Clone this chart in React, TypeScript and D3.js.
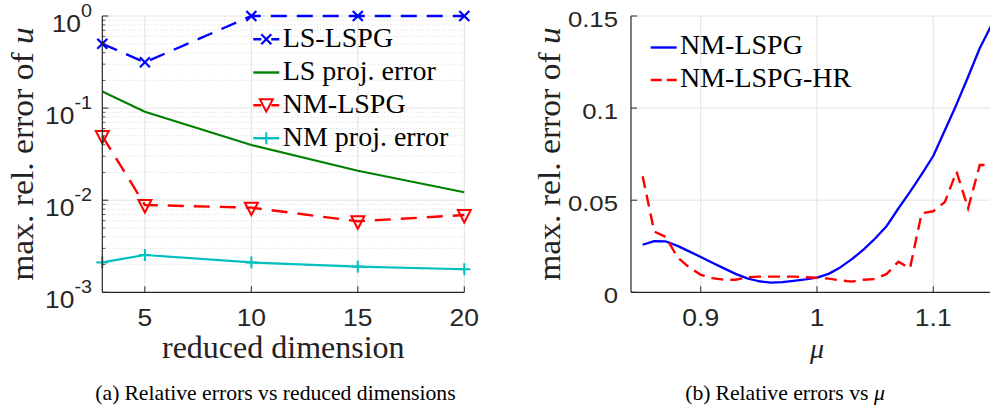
import React from 'react';
import * as d3 from 'd3';

// ---------- data: left panel ----------
const dims = [3, 5, 10, 15, 20];
const lsLspg = [0.5, 0.314, 1.0, 1.0, 1.0];
const lsProj = [0.151, 0.0914, 0.0398, 0.0209, 0.0122];
const nmLspg = [0.0498, 0.00887, 0.0083, 0.0059, 0.0069];
const nmProj = [0.00211, 0.00254, 0.00211, 0.0019, 0.00178];
const leftXTicks = [5, 10, 15, 20];
const leftYExps = [-3, -2, -1, 0];

// ---------- data: right panel ----------
const mu = [
  0.85, 0.86, 0.87, 0.88, 0.89, 0.9, 0.91, 0.92, 0.93, 0.94, 0.95, 0.96, 0.97, 0.98, 0.99, 1.0,
  1.01, 1.02, 1.03, 1.04, 1.05, 1.06, 1.07, 1.08, 1.09, 1.1, 1.11, 1.12, 1.13, 1.14, 1.15,
];
const nmLspgMu = [
  0.0258, 0.0278, 0.0276, 0.0252, 0.0222, 0.0192, 0.016, 0.013, 0.01, 0.0076, 0.006, 0.0052,
  0.0055, 0.0062, 0.007, 0.008, 0.01, 0.0135, 0.018, 0.0232, 0.0292, 0.036, 0.0455, 0.0545,
  0.064, 0.074, 0.088, 0.102, 0.117, 0.1325, 0.145,
];
const nmLspgHr = [
  0.063, 0.033, 0.03, 0.019, 0.0135, 0.0095, 0.0077, 0.0068, 0.0068, 0.0082, 0.0085, 0.0085,
  0.0085, 0.0085, 0.0082, 0.0079, 0.0074, 0.0065, 0.0058, 0.0068, 0.0072, 0.01, 0.0166, 0.013,
  0.0429, 0.044, 0.049, 0.0655, 0.0456, 0.0691, 0.0691,
];
const rightXTicks = [0.9, 1.0, 1.1];
const rightXLabels = ['0.9', '1', '1.1'];
const rightYTicks = [0, 0.05, 0.1, 0.15];
const rightYLabels = ['0', '0.05', '0.1', '0.15'];

const BLUE = '#0000ff';
const GREEN = '#008000';
const RED = '#ff0000';
const CYAN = '#00bfbf';
const AXIS = '#262626';
const GRID = '#e2e2e2';
const MINOR = '#cfcfcf';
const SANS = '"Liberation Sans", Arial, sans-serif';
const SERIF = '"Liberation Serif", "Times New Roman", serif';

const TOP = 16;
const BOTTOM = 292.3;

const xL = d3.scaleLinear().domain([3, 20]).range([102.3, 464.3]);
const yL = d3.scaleLog().domain([1e-3, 1]).range([BOTTOM, TOP]);
const xR = d3.scaleLinear().domain([0.84, 1.16]).range([631, 1003]);
const yR = d3.scaleLinear().domain([0, 0.15]).range([BOTTOM, TOP]);

const XMark = ({ x, y, c }: { x: number; y: number; c: string }) => (
  <g stroke={c} strokeWidth={2.2}>
    <line x1={x - 5} y1={y - 5} x2={x + 5} y2={y + 5} />
    <line x1={x - 5} y1={y + 5} x2={x + 5} y2={y - 5} />
  </g>
);
const PlusMark = ({ x, y, c }: { x: number; y: number; c: string }) => (
  <g stroke={c} strokeWidth={2}>
    <line x1={x - 6} y1={y} x2={x + 6} y2={y} />
    <line x1={x} y1={y - 6} x2={x} y2={y + 6} />
  </g>
);
const TriMark = ({ x, y, c }: { x: number; y: number; c: string }) => (
  <path
    d={`M${x - 6.5},${y - 5}L${x + 6.5},${y - 5}L${x},${y + 7.5}Z`}
    fill="none"
    stroke={c}
    strokeWidth={2}
    strokeLinejoin="miter"
  />
);

export default function App() {
  const lineL = d3
    .line<number>()
    .x((_, i) => xL(dims[i]))
    .y((d) => yL(d));
  const lineR = d3
    .line<number>()
    .x((_, i) => xR(mu[i]))
    .y((d) => yR(d));

  const minors: number[] = [];
  for (let e = -3; e < 0; e++) for (let k = 2; k <= 9; k++) minors.push(k * Math.pow(10, e));

  const legL = [
    { label: 'LS-LSPG', c: BLUE, dash: '8,10,8', mark: 'x' },
    { label: 'LS proj. error', c: GREEN, dash: '', mark: '' },
    { label: 'NM-LSPG', c: RED, dash: '8,10,8', mark: 'v' },
    { label: 'NM proj. error', c: CYAN, dash: '', mark: '+' },
  ];
  const legLBase = [46.7, 80, 112.7, 145.7];

  return (
    <svg width={990} height={410} style={{ display: 'block', position: 'absolute', left: 0, top: 0 }}>
      <rect width={990} height={410} fill="#fff" />
      {/* ================= LEFT PANEL ================= */}
      <g>
        {minors.map((v) => (
          <line key={'mg' + v} x1={xL(3)} x2={xL(20)} y1={yL(v)} y2={yL(v)} stroke={MINOR} strokeWidth={0.8} strokeDasharray="1,2.2" />
        ))}
        {leftYExps.slice(1).map((e) => (
          <line key={'gy' + e} x1={xL(3)} x2={xL(20)} y1={yL(Math.pow(10, e))} y2={yL(Math.pow(10, e))} stroke={GRID} strokeWidth={1} />
        ))}
        {leftXTicks.map((t) => (
          <line key={'gx' + t} x1={xL(t)} x2={xL(t)} y1={TOP} y2={BOTTOM} stroke={GRID} strokeWidth={1} />
        ))}
        <path d={lineL(lsLspg) || ''} fill="none" stroke={BLUE} strokeWidth={2.4} strokeDasharray="16,10" />
        <path d={lineL(lsProj) || ''} fill="none" stroke={GREEN} strokeWidth={2.2} />
        <path d={lineL(nmLspg) || ''} fill="none" stroke={RED} strokeWidth={2.4} strokeDasharray="16,10" />
        <path d={lineL(nmProj) || ''} fill="none" stroke={CYAN} strokeWidth={2.2} />
        {dims.map((d, i) => (
          <XMark key={'xm' + i} x={xL(d)} y={yL(lsLspg[i])} c={BLUE} />
        ))}
        {dims.map((d, i) => (
          <TriMark key={'tm' + i} x={xL(d)} y={yL(nmLspg[i])} c={RED} />
        ))}
        {dims.map((d, i) => (
          <PlusMark key={'pm' + i} x={xL(d)} y={yL(nmProj[i])} c={CYAN} />
        ))}
        <line x1={xL(3)} x2={xL(3)} y1={TOP} y2={BOTTOM} stroke={AXIS} strokeWidth={1.2} />
        <line x1={xL(3)} x2={xL(20)} y1={BOTTOM} y2={BOTTOM} stroke={AXIS} strokeWidth={1.2} />
        {leftYExps.map((e) => (
          <line key={'ty' + e} x1={xL(3)} x2={xL(3) + 6} y1={yL(Math.pow(10, e))} y2={yL(Math.pow(10, e))} stroke={AXIS} strokeWidth={1} />
        ))}
        {minors.map((v) => (
          <line key={'tmy' + v} x1={xL(3)} x2={xL(3) + 3} y1={yL(v)} y2={yL(v)} stroke={AXIS} strokeWidth={0.8} />
        ))}
        {leftXTicks.map((t) => (
          <line key={'tx' + t} x1={xL(t)} x2={xL(t)} y1={BOTTOM} y2={BOTTOM - 6} stroke={AXIS} strokeWidth={1} />
        ))}
        {leftYExps.map((e) => (
          <text
            key={'ly' + e}
            transform={`translate(92,${yL(Math.pow(10, e)) + 15.5}) scale(1.1,1)`}
            textAnchor="end"
            fontFamily={SANS}
            fontSize={24}
            fill={AXIS}
          >
            10
            <tspan dy={-15} fontSize={18}>
              {e === 0 ? '0' : String(e)}
            </tspan>
          </text>
        ))}
        {leftXTicks.map((t) => (
          <text
            key={'lx' + t}
            transform={`translate(${xL(t)},326) scale(1.15,1)`}
            textAnchor="middle"
            fontFamily={SANS}
            fontSize={23}
            fill={AXIS}
          >
            {t}
          </text>
        ))}
        <text x={283.3} y={357.5} textAnchor="middle" fontFamily={SERIF} fontSize={32} fill="#222">
          reduced dimension
        </text>
        <text transform="translate(33,154) rotate(-90) scale(1.05,1)" textAnchor="middle" fontFamily={SERIF} fontSize={32} fill="#222">
          max. rel. error of <tspan fontStyle="italic">u</tspan>
        </text>
        {legL.map((l, i) => {
          const yb = legLBase[i];
          const ly = yb - 7.5;
          return (
            <g key={'lg' + i}>
              <line x1={253.3} x2={279.3} y1={ly} y2={ly} stroke={l.c} strokeWidth={2.4} strokeDasharray={l.dash || undefined} />
              {l.mark === 'x' && <XMark x={266.3} y={ly} c={l.c} />}
              {l.mark === 'v' && <TriMark x={266.3} y={ly - 1} c={l.c} />}
              {l.mark === '+' && <PlusMark x={266.3} y={ly} c={l.c} />}
              <text x={282.7} y={yb} fontFamily={SERIF} fontSize={28} fill="#000">
                {l.label}
              </text>
            </g>
          );
        })}
        <text x={275.5} y={400} textAnchor="middle" fontFamily={SERIF} fontSize={21.7} fill="#000">
          (a)<tspan dx={5}>Relative errors vs reduced dimensions</tspan>
        </text>
      </g>

      {/* ================= RIGHT PANEL ================= */}
      <g>
        {rightYTicks.slice(1).map((t) => (
          <line key={'rgy' + t} x1={xR(0.84)} x2={xR(1.16)} y1={yR(t)} y2={yR(t)} stroke={GRID} strokeWidth={1} />
        ))}
        {rightXTicks.map((t) => (
          <line key={'rgx' + t} x1={xR(t)} x2={xR(t)} y1={TOP} y2={BOTTOM} stroke={GRID} strokeWidth={1} />
        ))}
        <path d={lineR(nmLspgMu) || ''} fill="none" stroke={BLUE} strokeWidth={2.3} strokeLinejoin="round" />
        <path d={lineR(nmLspgHr) || ''} fill="none" stroke={RED} strokeWidth={2.4} strokeDasharray="12,7" />
        <line x1={xR(0.84)} x2={xR(0.84)} y1={TOP} y2={BOTTOM} stroke={AXIS} strokeWidth={1.2} />
        <line x1={xR(0.84)} x2={xR(1.16)} y1={BOTTOM} y2={BOTTOM} stroke={AXIS} strokeWidth={1.2} />
        {rightYTicks.map((t) => (
          <line key={'rty' + t} x1={xR(0.84)} x2={xR(0.84) + 6} y1={yR(t)} y2={yR(t)} stroke={AXIS} strokeWidth={1} />
        ))}
        {rightXTicks.map((t) => (
          <line key={'rtx' + t} x1={xR(t)} x2={xR(t)} y1={BOTTOM} y2={BOTTOM - 6} stroke={AXIS} strokeWidth={1} />
        ))}
        {rightYTicks.map((t, i) => (
          <text
            key={'rly' + t}
            transform={`translate(618,${yR(t) + 11}) scale(1.12,1)`}
            textAnchor="end"
            fontFamily={SANS}
            fontSize={23}
            fill={AXIS}
          >
            {rightYLabels[i]}
          </text>
        ))}
        {rightXTicks.map((t, i) => (
          <text
            key={'rlx' + t}
            transform={`translate(${xR(t)},326) scale(1.15,1)`}
            textAnchor="middle"
            fontFamily={SANS}
            fontSize={23}
            fill={AXIS}
          >
            {rightXLabels[i]}
          </text>
        ))}
        <text x={817} y={358} textAnchor="middle" fontFamily={SERIF} fontStyle="italic" fontSize={28} fill="#222">
          μ
        </text>
        <text transform="translate(560,154) rotate(-90) scale(1.05,1)" textAnchor="middle" fontFamily={SERIF} fontSize={32} fill="#222">
          max. rel. error of <tspan fontStyle="italic">u</tspan>
        </text>
        <line x1={650.7} x2={676.7} y1={47.5} y2={47.5} stroke={BLUE} strokeWidth={2.4} />
        <text x={680} y={54} fontFamily={SERIF} fontSize={28} fill="#000">
          NM-LSPG
        </text>
        <line x1={650.7} x2={676.7} y1={80} y2={80} stroke={RED} strokeWidth={2.4} strokeDasharray="11,5,10" />
        <text x={680} y={87.3} fontFamily={SERIF} fontSize={28} fill="#000">
          NM-LSPG-HR
        </text>
        <text x={785} y={400} textAnchor="middle" fontFamily={SERIF} fontSize={21.7} fill="#000">
          (b)<tspan dx={5}>Relative errors vs </tspan>
          <tspan fontStyle="italic">μ</tspan>
        </text>
      </g>
    </svg>
  );
}
